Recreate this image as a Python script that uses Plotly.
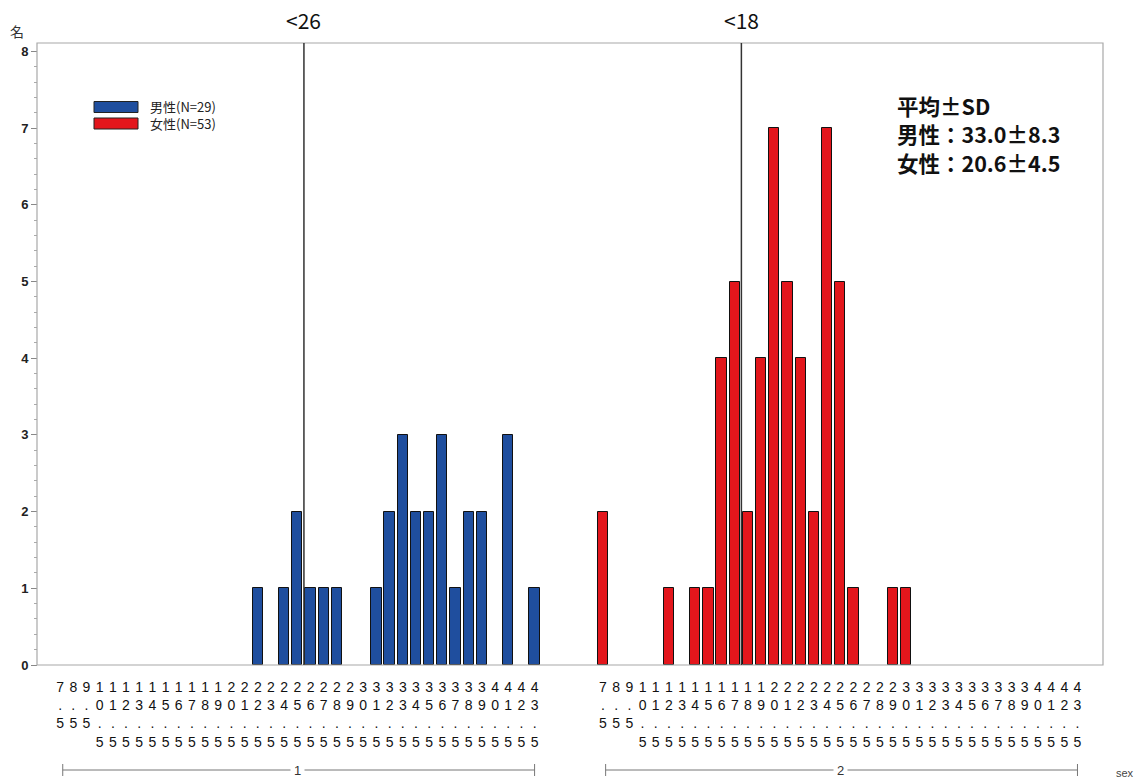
import plotly.graph_objects as go

# Class midpoints (same bins for both sexes)
categories = ["7.5", "8.5", "9.5", "10.5", "11.5", "12.5", "13.5", "14.5", "15.5",
              "16.5", "17.5", "18.5", "19.5", "20.5", "21.5", "22.5", "23.5", "24.5",
              "25.5", "26.5", "27.5", "28.5", "29.5", "30.5", "31.5", "32.5", "33.5",
              "34.5", "35.5", "36.5", "37.5", "38.5", "39.5", "40.5", "41.5", "42.5",
              "43.5"]

# Number of people per class
male_counts = [0, 0, 0, 0, 0, 0, 0, 0, 0,
               0, 0, 0, 0, 0, 0, 1, 0, 1,
               2, 1, 1, 1, 0, 0, 1, 2, 3,
               2, 2, 3, 1, 2, 2, 0, 3, 0,
               1]
female_counts = [2, 0, 0, 0, 0, 1, 0, 1, 1,
                 4, 5, 2, 4, 7, 5, 4, 2, 7,
                 5, 1, 0, 0, 1, 1, 0, 0, 0,
                 0, 0, 0, 0, 0, 0, 0, 0, 0,
                 0]

group_labels = ["1", "2"]
legend_labels = ["男性(N=29)", "女性(N=53)"]
stats_lines = ["平均±SD", "男性：33.0±8.3", "女性：20.6±4.5"]
cutoffs = [26, 18]
cutoff_labels = ["<26", "<18"]

BLUE = "#1F4E9E"
RED = "#E3161C"
FRAME = "#A8A8A8"

W, H = 1141, 783
ML, MR, MT, MB = 37, 38, 43, 118
PW, PH = W - ML - MR, H - MT - MB


def px_x(px):
    return (px - ML) / PW


def px_y(py):
    return (H - MB - py) / PH


def stacked(label):
    return "<br>".join(label)


tick_text = [stacked(c) for c in categories]
first_mid = float(categories[0])

fig = go.Figure()
fig.add_trace(go.Bar(
    x=categories, y=[v if v else None for v in male_counts],
    xaxis="x", yaxis="y", width=0.78,
    marker=dict(color=BLUE, line=dict(color="#111111", width=1)),
    showlegend=False, hoverinfo="x+y",
))
fig.add_trace(go.Bar(
    x=categories, y=[v if v else None for v in female_counts],
    xaxis="x2", yaxis="y", width=0.78,
    marker=dict(color=RED, line=dict(color="#111111", width=1)),
    showlegend=False, hoverinfo="x+y",
))

tick_font = dict(family="Liberation Sans Narrow, Liberation Sans, Arial", size=14, color="#111")
xcommon = dict(type="category", categoryorder="array", categoryarray=categories,
               tickmode="array", tickvals=categories, ticktext=tick_text,
               ticks="", showline=False, showgrid=False, zeroline=False,
               tickfont=tick_font, tickangle=0, anchor="y", fixedrange=True,
               ticklabelstandoff=12)
step = 13.18
fig.update_layout(
    xaxis=dict(domain=[0, 0.5], range=[-(60.1 - ML) / step, -(60.1 - ML) / step + (PW / 2) / step],
               **xcommon),
    xaxis2=dict(domain=[0.5, 1], range=[-(603 - ML - PW / 2) / step,
                                        -(603 - ML - PW / 2) / step + (PW / 2) / step],
                **xcommon),
    yaxis=dict(range=[0, 8.11], tickvals=[0, 1, 2, 3, 4, 5, 6, 7, 8],
               ticks="outside", ticklen=6, tickcolor="#888", tickwidth=1,
               minor=dict(dtick=0.2, tick0=0, ticks="outside", ticklen=3, tickcolor="#AAA"),
               showgrid=False, zeroline=False, showline=False,
               tickfont=dict(family="Liberation Sans, Arial", size=13, color="#222", weight="bold"),
               anchor="free", position=0, fixedrange=True),
    width=W, height=H,
    margin=dict(l=ML, r=MR, t=MT, b=MB),
    paper_bgcolor="white", plot_bgcolor="white",
    bargap=0,
)

shapes = []
# plot frame
shapes.append(dict(type="rect", xref="paper", yref="paper", x0=0, x1=1, y0=0, y1=1,
                   line=dict(color=FRAME, width=1.2), layer="above"))

# cut-off reference lines
for axis, cut in zip(["x", "x2"], cutoffs):
    shapes.append(dict(type="line", xref=axis, yref="paper",
                       x0=cut - first_mid, x1=cut - first_mid, y0=0, y1=1,
                       line=dict(color="#333", width=1.5), layer="above"))

# group brackets under the tick labels
gy = px_y(770)
for axis in ["x", "x2"]:
    shapes.append(dict(type="line", xref=axis, yref="paper", x0=0.2, x1=len(categories) - 1,
                       y0=gy, y1=gy, line=dict(color="#777", width=1)))
    for xe in [0.2, len(categories) - 1]:
        shapes.append(dict(type="line", xref=axis, yref="paper", x0=xe, x1=xe,
                           y0=gy - 6 / PH, y1=gy + 6 / PH, line=dict(color="#777", width=1)))

# legend swatches
for i, col in enumerate([BLUE, RED]):
    top = 101.5 + 16.5 * i
    shapes.append(dict(type="rect", xref="paper", yref="paper",
                       x0=px_x(94), x1=px_x(138), y0=px_y(top + 11), y1=px_y(top),
                       fillcolor=col, line=dict(color="#222", width=1)))

fig.update_layout(shapes=shapes)

ann = []
cjk = "Noto Sans CJK JP, Noto Sans, Liberation Sans"
for axis, cut, lab in zip(["x", "x2"], cutoffs, cutoff_labels):
    ann.append(dict(xref=axis, yref="paper", x=cut - first_mid, y=px_y(20), text=lab,
                    showarrow=False, xanchor="center", yanchor="middle",
                    font=dict(family=cjk, size=21, color="#111")))

for axis, g in zip(["x", "x2"], group_labels):
    ann.append(dict(xref=axis, yref="paper", x=(len(categories) - 1) / 2, y=gy, text=g,
                    showarrow=False, xanchor="center", yanchor="middle", bgcolor="white",
                    borderpad=3, font=dict(family="Liberation Sans, Arial", size=13, color="#333")))

# legend text
for i, lab in enumerate(legend_labels):
    ann.append(dict(xref="paper", yref="paper", x=px_x(149), y=px_y(106.5 + 17 * i),
                    text=lab, showarrow=False, xanchor="left", yanchor="middle", borderpad=0,
                    font=dict(family=cjk, size=13, color="#222")))

for i, line in enumerate(stats_lines):
    ann.append(dict(xref="paper", yref="paper", x=px_x(895), y=px_y(105 + 28.5 * i), text=line,
                    showarrow=False, xanchor="left", yanchor="middle",
                    font=dict(family=cjk, size=21.5, color="#111", weight="bold")))

ann.append(dict(xref="paper", yref="paper", x=px_x(17), y=px_y(31), text="名",
                showarrow=False, xanchor="center", yanchor="middle",
                font=dict(family=cjk, size=14, color="#333")))
ann.append(dict(xref="paper", yref="paper", x=px_x(1125), y=px_y(773), text="sex",
                showarrow=False, xanchor="center", yanchor="middle",
                font=dict(family="Liberation Sans, Arial", size=11, color="#444")))

fig.update_layout(annotations=ann)

fig.write_html("out.html")
